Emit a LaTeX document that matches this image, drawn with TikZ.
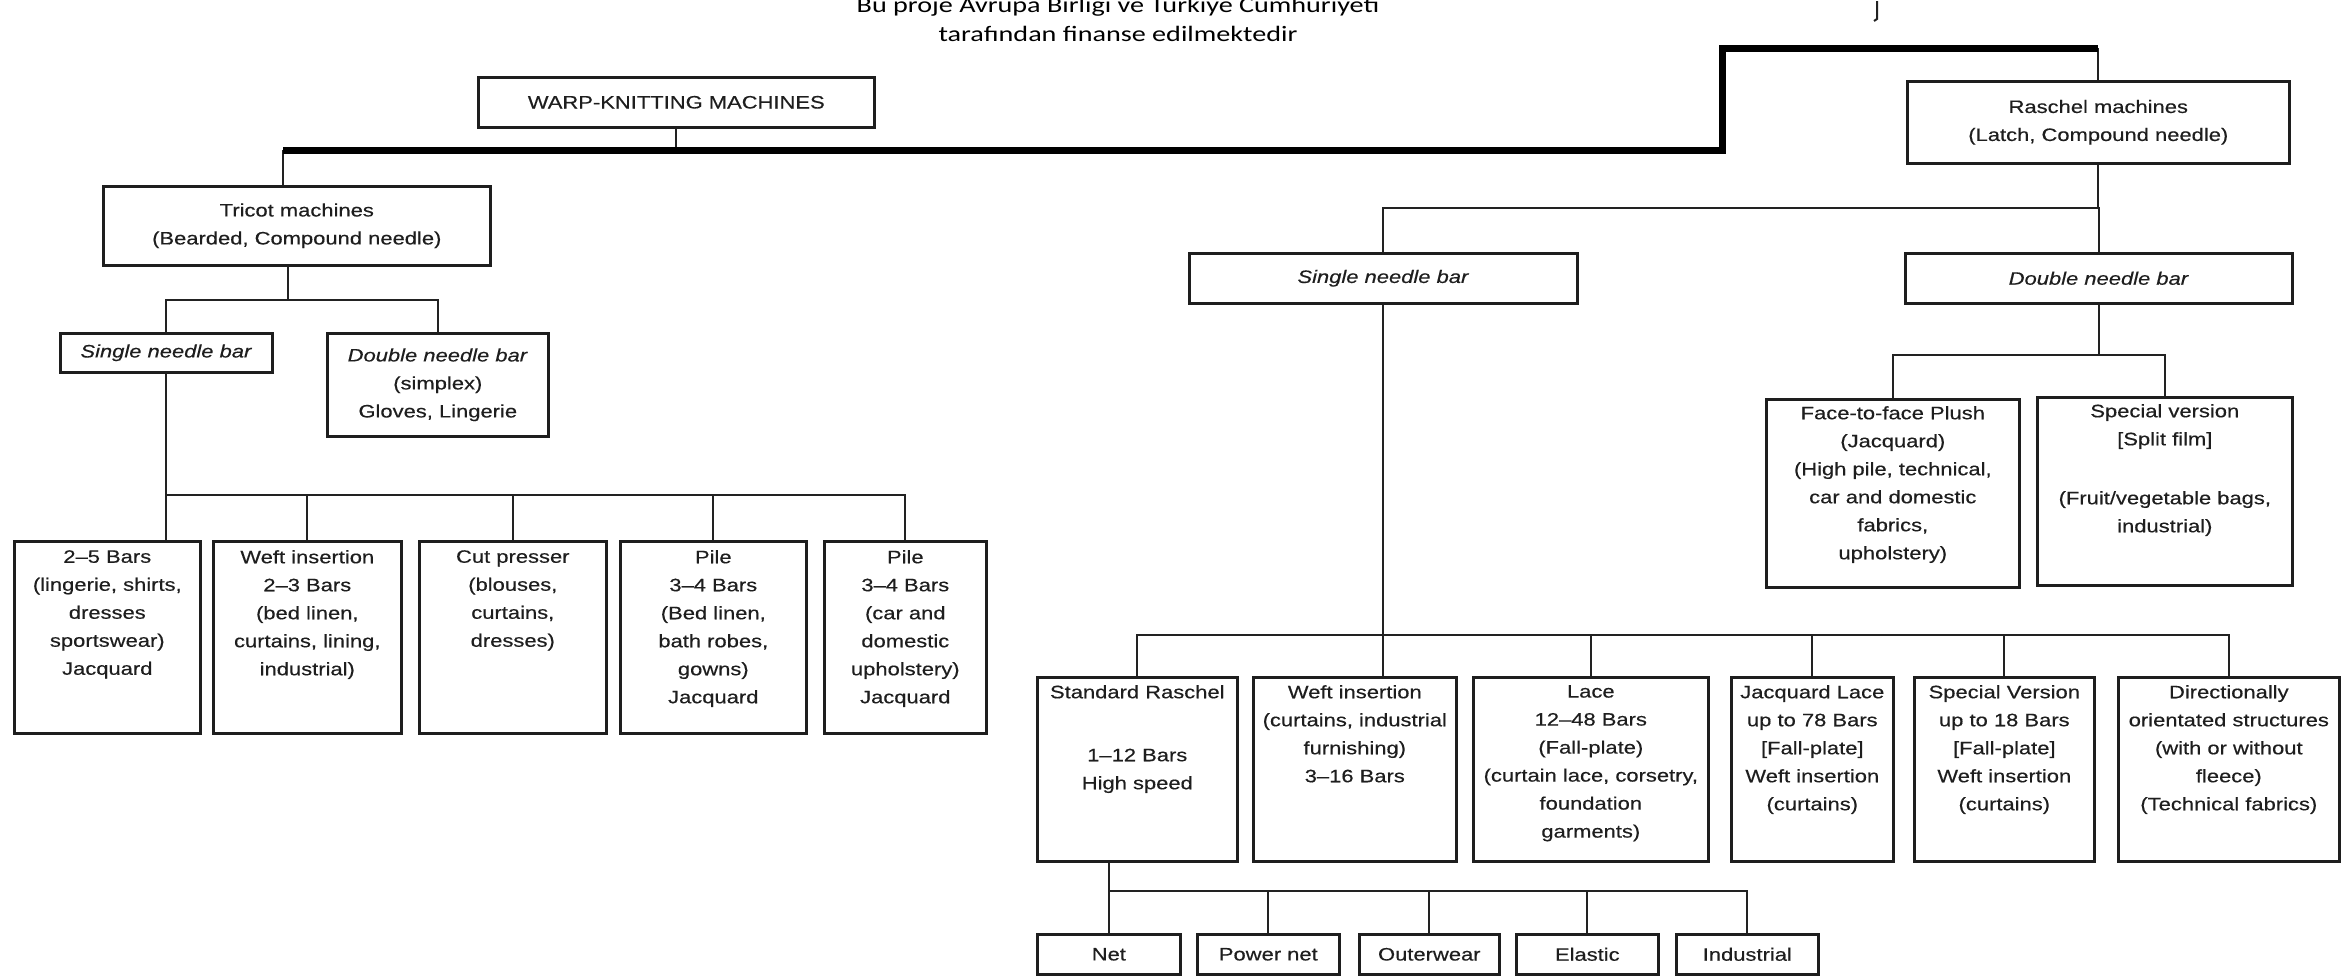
\documentclass[tikz,border=0pt]{standalone}
\usepackage{fontspec}
\setmainfont{Liberation Sans}[FakeStretch=1.22,FakeBold=0.4]
\newfontfamily\notefont{Carlito}[FakeStretch=1.28]
\usetikzlibrary{positioning}
\definecolor{inkgray}{HTML}{1E1E1E}
\definecolor{linegray}{HTML}{222222}
\newcommand{\boxfont}{\fontsize{18pt}{28pt}\selectfont}
\tikzset{
  unitbox/.style={draw=inkgray,line width=2.6pt,inner sep=0pt,anchor=north west,font=\boxfont,text=inkgray,align=center},
  boxtext/.style={anchor=north,inner sep=0pt,font=\boxfont,text=inkgray,align=center,execute at begin node=\strut},
  notetext/.style={anchor=north,inner sep=0pt,font=\notefont\fontsize{22pt}{29pt}\selectfont,text=black,align=center,execute at begin node=\strut},
  link/.style={draw=linegray,line width=2.2pt},
  heavylink/.style={draw=black,line width=7pt},
}

\begin{document}
\begin{tikzpicture}[x=1pt,y=-1pt,node distance=10pt]
  \useasboundingbox (0,0) rectangle (2351,975);
  \node[notetext] (note) at (1118,-3) {Bu proje Avrupa Birliği ve Türkiye Cumhuriyeti\\tarafından finanse edilmektedir};
  \draw[link,line width=2pt] (1877,1) -- (1877,19) -- (1874,21);

  \node[unitbox,minimum width=396pt,minimum height=50pt] (warp) at (477,76) {WARP-KNITTING MACHINES};
  \node[unitbox,minimum width=387pt,minimum height=79pt] (tricot) at (102,185) {Tricot machines\\(Bearded, Compound needle)};
  \node[unitbox,minimum width=382pt,minimum height=82pt] (raschel) at (1906,80) {Raschel machines\\(Latch, Compound needle)};

  \node[unitbox,minimum width=212pt,minimum height=39pt] (tsingle) at (59,332) {\textit{Single needle bar}};
  \node[unitbox,minimum width=221pt,minimum height=103pt] (tdouble) at (326,332) {\textit{Double needle bar}\\(simplex)\\Gloves, Lingerie};
  \node[unitbox,minimum width=388pt,minimum height=50pt] (rsingle) at (1188,252) {\textit{Single needle bar}};
  \node[unitbox,minimum width=387pt,minimum height=50pt] (rdouble) at (1904,252) {\textit{Double needle bar}};

  \node[unitbox,minimum width=186pt,minimum height=192pt] (t1) at (13,540) {};
  \node[unitbox,minimum width=188pt,minimum height=192pt] (t2) at (212,540) {};
  \node[unitbox,minimum width=187pt,minimum height=192pt] (t3) at (418,540) {};
  \node[unitbox,minimum width=186pt,minimum height=192pt] (t4) at (619,540) {};
  \node[unitbox,minimum width=162pt,minimum height=192pt] (t5) at (823,540) {};
  \node[boxtext,below=10pt of t1.north] (t1text) {2--5 Bars\\(lingerie, shirts,\\dresses\\sportswear)\\Jacquard};
  \node[boxtext,below=10pt of t2.north] (t2text) {Weft insertion\\2--3 Bars\\(bed linen,\\curtains, lining,\\industrial)};
  \node[boxtext,below=10pt of t3.north] (t3text) {Cut presser\\(blouses,\\curtains,\\dresses)};
  \node[boxtext,below=10pt of t4.north] (t4text) {Pile\\3--4 Bars\\(Bed linen,\\bath robes,\\gowns)\\Jacquard};
  \node[boxtext,below=10pt of t5.north] (t5text) {Pile\\3--4 Bars\\(car and\\domestic\\upholstery)\\Jacquard};

  \node[unitbox,minimum width=253pt,minimum height=188pt] (plush) at (1765,398) {};
  \node[unitbox,minimum width=255pt,minimum height=188pt] (split) at (2036,396) {};
  \node[boxtext,below=8pt of plush.north] (plushtext) {Face-to-face Plush\\(Jacquard)\\(High pile, technical,\\car and domestic\\fabrics,\\upholstery)};
  \node[boxtext,below=8pt of split.north] (splittext) {Special version\\{[}Split film{]}\\[31pt](Fruit/vegetable bags,\\industrial)};

  \node[unitbox,minimum width=200pt,minimum height=184pt] (sr) at (1036,676) {};
  \node[unitbox,minimum width=203pt,minimum height=184pt] (wi) at (1252,676) {};
  \node[unitbox,minimum width=235pt,minimum height=184pt] (lace) at (1472,676) {};
  \node[unitbox,minimum width=162pt,minimum height=184pt] (jl) at (1730,676) {};
  \node[unitbox,minimum width=180pt,minimum height=184pt] (svr) at (1913,676) {};
  \node[unitbox,minimum width=221pt,minimum height=184pt] (ds) at (2117,676) {};
  \node[boxtext,below=9pt of sr.north] (srtext) {Standard Raschel\\[35pt]1--12 Bars\\High speed};
  \node[boxtext,below=9pt of wi.north] (witext) {Weft insertion\\(curtains, industrial\\furnishing)\\3--16 Bars};
  \node[boxtext,below=9pt of lace.north] (lacetext) {Lace\\12--48 Bars\\(Fall-plate)\\(curtain lace, corsetry,\\foundation\\garments)};
  \node[boxtext,below=9pt of jl.north] (jltext) {Jacquard Lace\\up to 78 Bars\\{[}Fall-plate{]}\\Weft insertion\\(curtains)};
  \node[boxtext,below=9pt of svr.north] (svrtext) {Special Version\\up to 18 Bars\\{[}Fall-plate{]}\\Weft insertion\\(curtains)};
  \node[boxtext,below=9pt of ds.north] (dstext) {Directionally\\orientated structures\\(with or without\\fleece)\\(Technical fabrics)};

  \node[unitbox,minimum width=143pt,minimum height=40pt] (net) at (1036,933) {Net};
  \node[unitbox,minimum width=142pt,minimum height=40pt] (pn) at (1196,933) {Power net};
  \node[unitbox,minimum width=140pt,minimum height=40pt] (ow) at (1358,933) {Outerwear};
  \node[unitbox,minimum width=142pt,minimum height=40pt] (el) at (1515,933) {Elastic};
  \node[unitbox,minimum width=142pt,minimum height=40pt] (ind) at (1675,933) {Industrial};

  \coordinate (k0) at (283,150);
  \coordinate (k1) at (1722,150);
  \coordinate (k2) at (1722,48);
  \coordinate (tbus) at (288,300);
  \coordinate (lbus) at (0,495);
  \coordinate (rbus) at (0,208);
  \coordinate (dbus) at (0,355);
  \coordinate (sbus) at (0,635);
  \coordinate (nbus) at (0,891);

  \draw[link] (warp.south) -- (warp.south |- k1);
  \draw[link] (k0) -- (k0 |- tricot.north);
  \draw[link] (raschel.north |- k2) -- (raschel.north);
  \draw[heavylink] (k0) -- (k1) -- (k2) -- (raschel.north |- k2);

  \draw[link] (tbus |- tricot.south) -- (tbus);
  \draw[link] (tsingle.north) |- (tbus -| tdouble.north) -- (tdouble.north);
  \draw[link] (tsingle.south) -- (tsingle.south |- t1.north);
  \foreach \n in {t2,t3,t4,t5} \draw[link] (\n.north) |- (lbus -| tsingle.south);

  \draw[link] (raschel.south) -- (raschel.south |- rbus);
  \draw[link] (rsingle.north) |- (rbus -| rdouble.north) -- (rdouble.north);
  \draw[link] (rdouble.south) -- (rdouble.south |- dbus);
  \draw[link] (plush.north) |- (dbus -| split.north) -- (split.north);

  \draw[link] (rsingle.south) -- (rsingle.south |- wi.north);
  \foreach \n in {sr,lace,jl,svr,ds} \draw[link] (\n.north) |- (sbus -| rsingle.south);

  \draw[link] (sr.south -| net.north) -- (net.north);
  \foreach \n in {pn,ow,el,ind} \draw[link] (\n.north) |- (nbus -| net.north);
\end{tikzpicture}
\end{document}
